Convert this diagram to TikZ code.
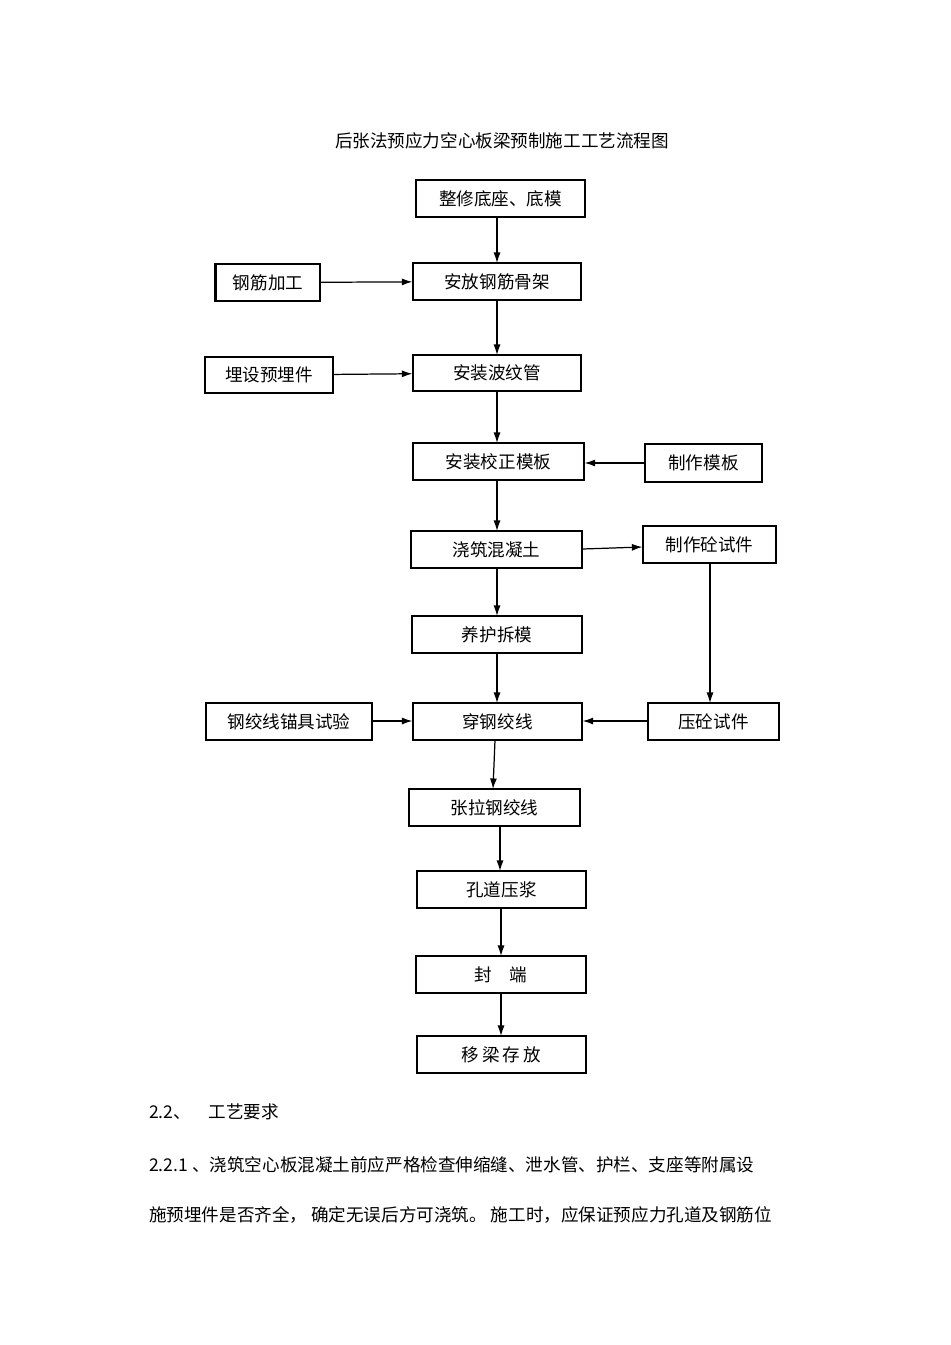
\documentclass[tikz,border=0pt]{standalone}
\usepackage{fontspec}
\setmainfont{Noto Sans CJK SC}
\usetikzlibrary{arrows.meta}
\begin{document}
\begin{tikzpicture}[x=0.02cm,y=-0.02cm,
  box/.style={draw,line width=0.7pt,inner sep=0pt,font=\fontsize{10}{12}\selectfont},
  arr/.style={-{Latex[length=6pt,width=4pt]},line width=0.7pt}]
\useasboundingbox (0,0) rectangle (950,1345);
\newcommand{\bx}[6]{\node[box,minimum width={(#4-#2)*0.02cm},minimum height={(#5-#3)*0.02cm}] (#1) at ({(#2+#4)/2},{(#3+#5)/2}) {\raisebox{-6pt}{#6}};}
\node (title) at (502,141) {\fontsize{10}{12}\selectfont 后张法预应力空心板梁预制施工工艺流程图};
\bx{a}{416}{180}{585}{217}{整修底座、底模}
\bx{b0}{216}{264}{320}{301}{钢筋加工}
\bx{b}{413}{263}{581}{300}{安放钢筋骨架}
\bx{c0}{205}{357}{333}{393}{埋设预埋件}
\bx{c}{413}{355}{581}{391}{安装波纹管}
\bx{d}{413}{443}{584}{480}{安装校正模板}
\bx{d1}{645}{444}{762}{482}{制作模板}
\bx{e}{411}{531}{582}{568}{浇筑混凝土}
\bx{e1}{643}{526}{776}{563}{制作砼试件}
\bx{f}{412}{616}{582}{653}{养护拆模}
\bx{g0}{206}{703}{372}{740}{钢绞线锚具试验}
\bx{g}{413}{703}{582}{740}{穿钢绞线}
\bx{g1}{648}{703}{779}{740}{压砼试件}
\bx{h}{409}{789}{580}{826}{张拉钢绞线}
\bx{i}{417}{871}{586}{908}{孔道压浆}
\bx{j}{416}{956}{586}{993}{封\quad 端}
\bx{k}{417}{1036}{586}{1073}{移\,梁\,存\,放}
\draw[line width=1.5pt] (b0.north west) -- (b0.south west);
\draw[arr] (497,217) -- (497,263);
\draw[arr] (b0) -- (b);
\draw[arr] (497,300) -- (497,355);
\draw[arr] (c0) -- (c);
\draw[arr] (497,391) -- (497,443);
\draw[arr] (d1.west|-463,463) -- (d.east|-463,463);
\draw[arr] (497,480) -- (497,531);
\draw[arr] (e.east|-549,549) -- (e1.west|-547,547);
\draw[arr] (497,568) -- (497,616);
\draw[arr] (497,653) -- (497,703);
\draw[arr] (710,563) -- (710,703);
\draw[arr] (g0.east|-721,721) -- (g.west|-721,721);
\draw[arr] (g1.west|-721,721) -- (g.east|-721,721);
\draw[arr] (495,740) -- (493,789);
\draw[arr] (500,826) -- (500,871);
\draw[arr] (501,908) -- (501,956);
\draw[arr] (501,993) -- (501,1036);
\node[anchor=west,font=\fontsize{10}{12}\selectfont] (t1) at (143,1112) {2.2、\quad 工艺要求};
\node[anchor=west,font=\fontsize{10}{12}\selectfont] (t2) at (143,1165) {2.2.1 、浇筑空心板混凝土前应严格检查伸缩缝、泄水管、护栏、支座等附属设};
\node[anchor=west,font=\fontsize{10}{12}\selectfont] (t3) at (143,1215) {施预埋件是否齐全，\ 确定无误后方可浇筑。\ 施工时，应保证预应力孔道及钢筋位};
\end{tikzpicture}
\end{document}
